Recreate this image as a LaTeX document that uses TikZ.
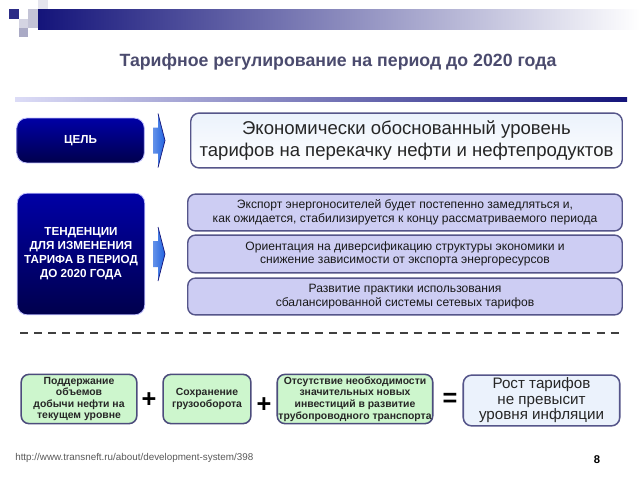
\documentclass[tikz,border=0pt]{standalone}
\usepackage{fontspec}
\setmainfont{Liberation Sans}
\definecolor{navy}{HTML}{14147A}
\definecolor{titlegray}{HTML}{4B4B6E}
\definecolor{lav}{HTML}{CDCDF3}
\definecolor{lavline}{HTML}{55558A}
\definecolor{mint}{HTML}{CDF6CD}
\definecolor{paleblue}{HTML}{EBF2FC}
\definecolor{arrowblue}{HTML}{2163E0}
\tikzset{
  navybox/.style={rounded corners=7pt,draw=blue!25,line width=0.6pt,
    top color=blue!65!black,bottom color=blue!30!black,
    minimum width=90.7pt,inner sep=0pt},
  navytext/.style={text=white,font=\bfseries\fontsize{8.3}{10}\selectfont,align=center},
  lavbox/.style={rounded corners=5.5pt,draw=lavline,line width=1pt,fill=lav,
    minimum width=309pt,inner sep=0pt,align=center,
    font=\fontsize{8.6}{9.6}\selectfont,text=black!90},
  greenbox/.style={rounded corners=5.5pt,draw=lavline!90!black,line width=1.1pt,fill=mint,
    minimum height=35pt,inner sep=0pt,align=center,
    font=\bfseries\fontsize{7.4}{8.2}\selectfont,text=black!85},
  sign/.style={font=\bfseries\fontsize{18}{18}\selectfont}
}
\begin{document}
\begin{tikzpicture}[x=0.025cm,y=-0.025cm]
        \useasboundingbox [fill=white] (0,0) rectangle (640,480);
        %верхняя полоса
        \fill [navy!90] (9,9) rectangle (19,19);
        \fill [lavline!35] (28,9) rectangle (38,28);
        \fill [lavline!15] (38,0) rectangle (48,9);
        \fill [lavline!25] (19,19) rectangle (28,28);
        \fill [lavline!50] (19,28) rectangle (28,37);
        \shade [left color=navy,middle color=navy!55,right color=white] (38,9) rectangle (640,29);
        %заголовок
        \node [text=titlegray,font=\bfseries\fontsize{12.6}{14}\selectfont] (title) at (338,62) {Тарифное регулирование на период до 2020 года};
        \shade [left color=lav!70,right color=navy] (15,97) rectangle (627,101);
        %цель
        \node [navybox,minimum height=31.9pt] (goal) at (80.5,140.5) {};
        \node [navytext] (goaltxt) at (goal) {ЦЕЛЬ};
        \node [rounded corners=6pt,draw=lavline,line width=1pt,top color=paleblue,bottom color=white,
               minimum width=306.9pt,minimum height=39pt,align=center,inner sep=0pt,
               font=\fontsize{13.2}{15.6}\selectfont,text=black!85] (aim) at (406.5,140.5)
               {Экономически обоснованный уровень\\тарифов на перекачку нефти и нефтепродуктов};
        %тенденции
        \node [navybox,minimum height=86.5pt] (trend) at (81,254) {};
        \node [navytext] (trendtxt) at (trend) {ТЕНДЕНЦИИ\\ДЛЯ ИЗМЕНЕНИЯ\\ТАРИФА В ПЕРИОД\\ДО 2020 ГОДА};
        \node [lavbox,minimum height=26.2pt] (exp) at (405,212.5) {Экспорт энергоносителей будет постепенно замедляться и,\\как ожидается, стабилизируется к концу рассматриваемого периода};
        \node [lavbox,minimum height=26.9pt] (div) at (405,254) {Ориентация на диверсификацию структуры экономики и\\снижение зависимости от экспорта энергоресурсов};
        \node [lavbox,minimum height=26.2pt] (net) at (405,296.5) {Развитие практики использования\\сбалансированной системы сетевых тарифов};
        %стрелки
        \foreach \yy in {140.5,254}
          {
          \shade [left color=arrowblue!70!white,right color=arrowblue] (153,\yy-13) -- (158,\yy-13) -- (158,\yy-27) -- (165,\yy) -- (158,\yy+27) -- (158,\yy+13) -- (153,\yy+13) -- cycle;
          \draw [navy,line width=0.5pt] (158,\yy-27) -- (165,\yy) -- (158,\yy+27);
          }
        %пунктир
        \draw [line width=1.4pt,black!75,dash pattern=on 5.7pt off 4.3pt] (20,333) -- (623,333);
        %итог
        \node [greenbox,minimum width=82.2pt] (prod) at (79,399) {Поддержание\\объемов\\добычи нефти на\\текущем уровне};
        \node [sign] (plusa) at (149,400) {+};
        \node [greenbox,minimum width=62.4pt] (cargo) at (207,399) {Сохранение\\грузооборота};
        \node [sign] (plusb) at (264,405) {+};
        \node [greenbox,minimum width=110.6pt] (inv) at (355,399) {Отсутствие необходимости\\значительных новых\\инвестиций в развитие\\трубопроводного транспорта};
        \node [sign] (eq) at (450,400) {=};
        \node [rounded corners=6pt,draw=lavline,line width=1.1pt,fill=paleblue,
               minimum width=111.3pt,minimum height=36.1pt,align=center,inner sep=0pt,
               font=\fontsize{10.8}{11}\selectfont,text=black!85] (res) at (541.5,400.5)
               {Рост тарифов\\не превысит\\уровня инфляции};
        %подвал
        \node [anchor=west,text=black!65,font=\fontsize{7}{8}\selectfont,inner sep=0pt] (url) at (15,458) {http://www.transneft.ru/about/development-system/398};
        \node [font=\bfseries\fontsize{8}{9}\selectfont] (page) at (597,460) {8};
\end{tikzpicture}
\end{document}
